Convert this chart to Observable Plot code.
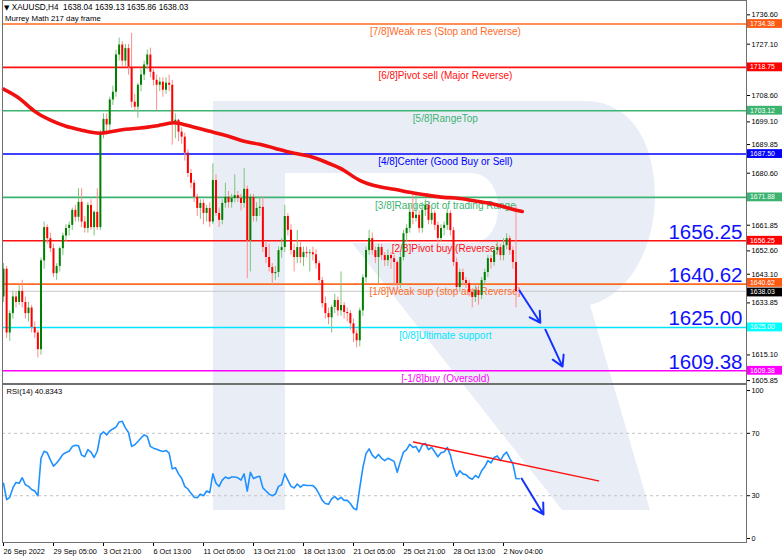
<!DOCTYPE html>
<html><head><meta charset="utf-8">
<script src="https://cdn.jsdelivr.net/npm/d3@7"></script>
<script src="https://cdn.jsdelivr.net/npm/@observablehq/plot@0.6"></script>
<style>
body{margin:0;background:#fff;}
#wrap{position:relative;width:782px;height:559px;overflow:hidden;font-family:"Liberation Sans",Arial,sans-serif;background:#fff}
#wrap svg.plot{position:absolute;left:0;overflow:visible;background:transparent}
#wm{position:absolute;left:0;top:0}
.hdr{position:absolute;color:#000;white-space:nowrap;font-family:"Liberation Sans",Arial,sans-serif}
</style></head><body><div id="wrap">
<svg id="wm" width="782" height="559"></svg>
<div class="hdr" style="left:4px;top:3px;font-size:8.2px"><span style="font-family:'DejaVu Sans';font-size:7px">▼</span> XAUUSD,H4&nbsp; 1638.04 1639.13 1635.86 1638.03</div>
<div class="hdr" style="left:5px;top:14px;font-size:7.8px">Murrey Math 217 day frame</div>
</div>
<script>
// ---------- DATA ----------
const candles = [ // [open, high, low, close] per H4 bar
[1636,1648,1634,1646],[1646,1647,1621,1623],[1623,1631,1620,1630],[1630,1638,1628,1636],[1636,1638,1632,1634],
[1634,1640,1633,1638],[1638,1642,1632,1634],[1634,1636,1628,1630],[1630,1634,1627,1632],[1632,1633,1623,1625],
[1625,1627,1621,1623],[1623,1624,1614,1617],[1617,1650,1615,1649],[1649,1663,1646,1661],[1661,1662,1655,1657],
[1657,1659,1652,1653.4],[1653.4,1655,1643,1644.4],[1644.4,1648,1642,1647],[1647,1654,1645,1653.4],[1653.4,1659,1651,1658],
[1658,1662,1656,1660.7],[1660.7,1663,1658,1661.8],[1661.8,1668,1660,1667.2],[1667.2,1669,1663,1664.7],[1664.7,1675,1663,1670.1],
[1670.1,1675,1661,1663],[1663,1665,1659,1660.7],[1660.7,1670,1659,1669],[1669,1671,1660,1661],[1661,1667,1658,1666.5],
[1666.5,1675,1660,1661],[1661,1696,1660,1695],[1695,1702,1693,1700],[1700,1702,1695,1698],[1698,1708,1696,1707],
[1707,1712,1705,1709.8],[1709.8,1725,1708,1723.2],[1723.2,1729.3,1721,1726.8],[1726.8,1728,1719,1721],[1721,1727,1719,1725.5],
[1725.5,1727,1716,1718.8],[1718.8,1731,1704,1706.2],[1706.2,1709,1703,1704.4],[1704.4,1713,1700.4,1712.3],[1712.3,1718,1710,1716],
[1716,1721,1714,1719.6],[1719.6,1725,1718,1723.2],[1723.2,1725.7,1715,1717],[1717,1718,1712,1714.1],[1714.1,1716,1703,1712.3],
[1712.3,1715,1710,1713.4],[1713.4,1715,1708,1710.5],[1710.5,1715,1709,1713],[1713,1716,1710,1712.3],[1712.3,1714,1690.7,1699],
[1699,1702,1693,1699.7],[1699.7,1700,1692,1695.4],[1695.4,1697,1691,1693.6],[1693.6,1695,1685,1687.8],[1687.8,1689,1679,1680.5],
[1680.5,1682,1675,1677],[1677,1678,1670,1671.9],[1671.9,1673,1665,1667.9],[1667.9,1671,1664,1669.7],[1669.7,1671,1662,1666.1],
[1666.1,1669,1663,1667.9],[1667.9,1670,1661,1663],[1663,1684,1662,1678],[1678,1680,1665,1666.1],[1666.1,1668,1661,1663.6],
[1663.6,1671,1662,1669.7],[1669.7,1677,1668,1671.9],[1671.9,1674,1668,1670],[1670,1673,1668,1671.5],[1671.5,1680,1670,1672.5],
[1672.5,1674,1670,1671.5],[1671.5,1673,1667,1669.7],[1669.7,1682.3,1668,1674.8],[1674.8,1676,1642.6,1656.3],[1656.3,1673,1645,1671.9],
[1671.9,1673,1663,1665],[1665,1670,1663,1667.9],[1667.9,1672,1665,1668.3],[1668.3,1672,1652,1653.8],[1653.8,1656,1648,1650.2],
[1650.2,1655,1645,1646.6],[1646.6,1648,1640,1644.4],[1644.4,1647,1642,1644.8],[1644.8,1654,1643,1652.7],[1652.7,1657,1650,1653.8],
[1653.8,1669,1652,1665],[1665,1666,1658,1660],[1660,1662,1651,1652.7],[1652.7,1655,1645,1650.2],[1650.2,1660,1648,1653.8],
[1653.8,1656,1648,1650.2],[1650.2,1654,1647,1652],[1652,1654,1650,1651.6],[1651.6,1653,1645,1651.9],[1651.9,1654,1649,1651.2],
[1651.2,1653,1646,1648],[1648,1649,1640,1641.9],[1641.9,1643,1632,1633.6],[1633.6,1636,1628,1630],[1630,1632,1626,1628.5],
[1628.5,1633,1623,1632.2],[1632.2,1637,1630,1634.7],[1634.7,1636,1629,1631],[1631,1645,1629,1632.9],[1632.9,1634,1628,1630.4],
[1630.4,1632,1627,1630],[1630,1631,1624,1626.3],[1626.3,1628,1619.5,1622.7],[1622.7,1624,1617.7,1620.2],[1620.2,1632,1618,1631],
[1631,1644,1629,1642.9],[1642.9,1654,1641,1652.7],[1652.7,1660,1651,1657],[1657,1659,1651,1652.7],[1652.7,1654,1648,1650.2],
[1650.2,1655,1640.8,1653.8],[1653.8,1655,1649,1650.9],[1650.9,1652,1647,1649.1],[1649.1,1653,1647,1650.9],[1650.9,1652,1646,1649.8],
[1649.8,1651,1640,1648.4],[1648.4,1649,1638,1640.8],[1640.8,1652,1639,1650.2],[1650.2,1660,1649,1658.8],[1658.8,1662,1656,1660.7],
[1660.7,1669,1659,1666.5],[1666.5,1673.7,1662,1664.3],[1664.3,1672.6,1663,1665.4],[1665.4,1667,1659,1660.7],[1660.7,1670,1659,1667.2],
[1667.2,1671,1665,1669],[1669,1670,1662,1663.6],[1663.6,1668,1662,1666.1],[1666.1,1667,1660,1661.8],[1661.8,1663,1655,1657.1],
[1657.1,1662,1656,1660.7],[1660.7,1663,1658,1661.8],[1661.8,1668,1660,1666.1],[1666.1,1667,1658,1659.9],[1659.9,1661,1647,1648.4],
[1648.4,1650,1638,1639.4],[1639.4,1646,1638,1644.8],[1644.8,1646,1640,1641.9],[1641.9,1643,1639,1640.8],[1640.8,1642,1636,1637.6],
[1637.6,1639,1632.1,1635.8],[1635.8,1640,1634,1638.3],[1638.3,1640,1633,1636.5],[1636.5,1643,1635,1641.9],[1641.9,1646,1640,1644.8],
[1644.8,1651,1643,1649.8],[1649.8,1651,1646,1648.4],[1648.4,1654,1647,1652.7],[1652.7,1656,1651,1653.8],[1653.8,1655,1649,1650.9],
[1650.9,1657,1649,1654.5],[1654.5,1658.8,1653,1657],[1657,1658,1651,1652.7],[1652.7,1654,1646,1648.4],[1648.4,1669,1632.1,1638.0],
[1638.04,1639.13,1635.86,1638.03]
];
// moving average (thick red) sampled at bar index
const maIndex = [0,5,10,15,20,25,31,37,43,48,53,56,61,66,72,77,82,88,93,98,104,109,114,120,125,130,136,141,146,152,157,162,166];
const maValue = [1710.9,1707.6,1702.9,1699.7,1697.5,1696.1,1695.0,1696.1,1696.8,1697.5,1698.6,1698.6,1697.2,1695.7,1693.9,1692.1,1691.0,1689.2,1687.8,1686.7,1684.2,1681.6,1678.0,1675.8,1674.8,1673.7,1672.6,1671.9,1671.5,1670.4,1669.4,1667.9,1666.8];
// RSI(14) per bar
const rsi = [38,27.5,29,35,38.5,38,41.5,37,36,34,33,30,54,58.5,57.5,53,49,51,53.5,56.5,
57.7,58.5,61.5,62.3,62,56,55,59.5,58,54.5,58.5,69,71,69,71.5,72.8,74,77.3,77.7,73.5,
70.5,61.6,62.7,64.8,67,69,68,61.6,60.5,59.8,59,58.4,59,57.3,47.2,48,44,41.2,36,34.3,
31.5,29,28.7,31,30,33,32,44,38,36,40,42,41,42,42,41.5,40,44,33,45,
41,42,42.5,35,33,31,30,31,36,37,44,40,36,35,37.5,35.5,37,36.5,36.5,36.5,
34.5,31,27,25,24.5,28,29.5,27.5,29,27,27,25,22,21,35,48,57,60,56,54,
56.5,54,52.5,54,53,52,45,52,58,59.5,63,61,61.5,58,62.5,63.5,59.5,61,58,55,
57.5,58,61,56,48,42.5,46,44,43.5,41.5,40.5,43,41.5,46,48.5,52.5,51,54.5,55.5,52.5,
56,58,54,50.5,41,40.83];
// Murrey Math levels
const levelPrice = [1734.38,1718.75,1703.12,1687.50,1671.88,1656.25,1640.62,1625.00,1609.38];
const levelLabel = ["[7/8]Weak res (Stop and Reverse)","[6/8]Pivot sell (Major Reverse)","[5/8]RangeTop","[4/8]Center (Good Buy or Sell)","[3/8]RangeBot of trading Range","[2/8]Pivot buy (Reverse)","[1/8]Weak sup (stop and Reverse)","[0/8]Ultimate support","[-1/8]buy (Oversold)"];
const levelColor = ["#ff6a1f","#ff1010","#3cb371","#0000ff","#3cb371","#ff1010","#ff6a1f","#00e5ff","#ff00ff"];
const boxColor = ["#ff5a14","#ff0000","#3cb371","#0000ff","#3cb371","#ff0000","#ff5a14","#00ffff","#ff00ff"];
const bigLabels = [1656.25,1640.62,1625.00,1609.38];
const lastPrice = 1638.03;
const priceTicks = [1727.10,1708.60,1699.10,1680.60,1661.85,1652.60,1633.85,1615.10,1605.85];
const priceTicksNearBoxes = [1736.60,1689.85,1643.10];
const rsiTicks = [0,30,70,100];
const xTickIndex = [0,16,32,48,64,80,96,112,128,144,160];
const xTickLabel = ["26 Sep 2022","29 Sep 05:00","3 Oct 21:00","6 Oct 13:00","11 Oct 05:00","13 Oct 21:00","18 Oct 13:00","21 Oct 05:00","25 Oct 21:00","28 Oct 13:00","2 Nov 04:00"];
// annotations (bar index, value)
const priceArrows = [{x1:165.1,y1:1638.3,x2:171.8,y2:1626.7},{x1:173.4,y1:1624.2,x2:178.9,y2:1610.9}];
const rsiTrend = [{i:131.2,v:64.5},{i:190.4,v:39.5}];
const rsiArrow = [{x1:165.8,y1:41,x2:172.8,y2:18}];

// ---------- BUILD ----------
const bars = candles.map(([o,h,l,c],i)=>({i,o,h,l,c,up:c>=o}));
const ma = maIndex.map((i,k)=>({i,v:maValue[k]}));
const rsiPts = rsi.map((v,i)=>({i,v}));
const levels = levelPrice.map((p,k)=>({price:p,label:levelLabel[k],color:levelColor[k],box:boxColor[k]}));
const W = 782, xDomain = [-0.32, 237.76];
const FONT = "Liberation Sans, Arial, sans-serif";
const labelCenterIndex = 141.4;

const main = Plot.plot({
  width: W, height: 383, marginLeft: 2, marginRight: 36, marginTop: 0, marginBottom: 0,
  x: {domain: xDomain, axis: null},
  y: {domain: [1604.80, 1742.85], axis: null},
  style: {fontFamily: FONT, background: "transparent", overflow: "visible"},
  marks: [
    Plot.ruleY([lastPrice], {stroke: "#c8c8c8", strokeWidth: 1}),
    Plot.ruleY(levels, {y: "price", stroke: "color", strokeWidth: 1.6}),
    Plot.text(levels, {x: () => labelCenterIndex, y: "price", text: "label", fill: "color", dy: 8, fontSize: 10}),
    Plot.ruleX(bars, {x: "i", y1: "l", y2: "h", stroke: d => d.up ? "#7cc47c" : "#ff8c8c", strokeWidth: 1}),
    Plot.ruleX(bars, {x: "i", y1: "o", y2: "c", stroke: d => d.up ? "#008000" : "#ff0000", strokeWidth: 2}),
    Plot.line(ma, {x: "i", y: "v", stroke: "#f01010", strokeWidth: 3.6, curve: "natural"}),
    Plot.text(bigLabels, {y: d => d, text: d => d.toFixed(2), frameAnchor: "right", textAnchor: "end", lineAnchor: "bottom", dx: -4, dy: -2, fontSize: 20.5, fill: "#1010ff"}),
    Plot.arrow(priceArrows, {x1: "x1", y1: "y1", x2: "x2", y2: "y2", stroke: "#1432ff", strokeWidth: 2, headLength: 9}),
    Plot.axisY({anchor: "right", ticks: priceTicks, tickFormat: d => d.toFixed(2), tickSize: 3, tickPadding: 2, fontSize: 7.3, fill: "#000"}),
    Plot.axisY({anchor: "right", ticks: priceTicksNearBoxes, tickFormat: d => d.toFixed(2), tickSize: 3, tickPadding: 2, fontSize: 7.3, fill: "#000", dy: -3}),
    Plot.frame({stroke: "#707070"})
  ]
});
main.classList.add("plot");
main.style.top = "0px";
document.getElementById("wrap").appendChild(main);

// price boxes on the right axis, placed with the plot's own y scale
const ys = main.scale("y");
const msvg = d3.select(main);
const boxes = levels.map(d=>({price:d.price,color:d.box,nudge:d.price===1640.62?-1.2:0}))
  .concat([{price:lastPrice,color:"#000",nudge:1.2}]);
const g = msvg.append("g").attr("text-anchor","start");
boxes.forEach(b=>{
  const y = ys.apply(b.price) + b.nudge;
  g.append("rect").attr("x",747).attr("y",y-4.4).attr("width",35).attr("height",8.8).attr("fill",b.color);
  g.append("text").attr("x",750).attr("y",y).attr("dy","0.35em").attr("fill","#fff").attr("text-anchor","start")
    .attr("font-size",6.9).attr("font-family",FONT).text(b.price.toFixed(2));
});

const rsiPlot = Plot.plot({
  width: W, height: 176, marginLeft: 2, marginRight: 36, marginTop: 1, marginBottom: 17,
  x: {domain: xDomain},
  y: {domain: [0, 101.3]},
  style: {fontFamily: FONT, background: "transparent", overflow: "visible"},
  marks: [
    Plot.ruleY([70, 30], {stroke: "#c4c4c4", strokeDasharray: "3,3"}),
    Plot.line(rsiPts, {x: "i", y: "v", stroke: "#1e90ff", strokeWidth: 1.6}),
    Plot.line(rsiTrend, {x: "i", y: "v", stroke: "#ff1010", strokeWidth: 1.5}),
    Plot.arrow(rsiArrow, {x1: "x1", y1: "y1", x2: "x2", y2: "y2", stroke: "#1432ff", strokeWidth: 2, headLength: 9}),
    Plot.axisY({anchor: "right", ticks: rsiTicks.slice(1, 3), tickSize: 3, tickPadding: 2, fontSize: 7.3}),
    Plot.axisY({anchor: "right", ticks: rsiTicks.slice(3), tickSize: 3, tickPadding: 2, fontSize: 7.3, dy: 4}),
    Plot.axisY({anchor: "right", ticks: rsiTicks.slice(0, 1), tickSize: 3, tickPadding: 2, fontSize: 7.3, dy: -4}),
    Plot.axisX({anchor: "bottom", ticks: xTickIndex, tickFormat: d => xTickLabel[xTickIndex.indexOf(d)], textAnchor: "start", tickSize: 4, tickPadding: 2, fontSize: 7.3}),
    Plot.frame({stroke: "#707070"}),
    Plot.text(["RSI(14) 40.8343"], {frameAnchor: "top-left", dx: 4, dy: 4, fontSize: 7.6, fill: "#000"})
  ]
});
rsiPlot.classList.add("plot");
rsiPlot.style.top = "383px";
document.getElementById("wrap").appendChild(rsiPlot);

// faint watermark logo behind the chart (decorative)
const wm = d3.select("#wm");
wm.append("path").attr("fill", "#e9eef6").attr("d",
  "M213,101 L585,101 C632,101 655,145 655,195 C655,250 628,295 590,305 L650,510 L562,510 L352,243 L470,243 C488,243 498,228 498,208 C498,188 488,173 470,173 L285,173 L285,510 L213,510 Z");
</script></body></html>
